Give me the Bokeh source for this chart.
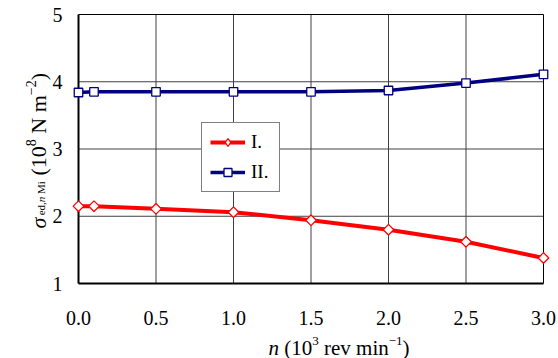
import math
from bokeh.plotting import figure
from bokeh.models import Range1d, Legend
from bokeh.core.properties import value
from bokeh.embed import file_html
from bokeh.resources import INLINE

# ---- data ----
n_vals = [0.0, 0.1, 0.5, 1.0, 1.5, 2.0, 2.5, 3.0]
series_I = [2.15, 2.15, 2.11, 2.06, 1.94, 1.80, 1.62, 1.38]
series_II = [3.84, 3.85, 3.85, 3.85, 3.85, 3.87, 3.98, 4.11]
x_ticks = [0.0, 0.5, 1.0, 1.5, 2.0, 2.5, 3.0]
y_ticks = [1, 2, 3, 4, 5]
x_tick_labels = ["0.0", "0.5", "1.0", "1.5", "2.0", "2.5", "3.0"]
y_tick_labels = ["1", "2", "3", "4", "5"]
series_labels = ["I.", "II."]

# ---- layout constants (pixels) ----
W, H = 558, 358
FL, FR, FT, FB = 78, 543, 14, 283          # plotting area in canvas pixels
XMIN, XMAX = x_ticks[0], x_ticks[-1]
YMIN, YMAX = y_ticks[0], y_ticks[-1]
SX = (FR - FL) / (XMAX - XMIN)
SY = (FB - FT) / (YMAX - YMIN)
FONT = "Liberation Serif"


def px2x(px):
    return XMIN + (px - FL) / SX


def py2y(py):
    return YMIN + (FB - py) / SY


p = figure(width=W, height=H, output_backend="svg", toolbar_location=None,
           x_range=Range1d(px2x(0), px2x(W)), y_range=Range1d(py2y(H), py2y(0)),
           x_axis_location=None, y_axis_location=None,
           min_border=0, min_border_left=0, min_border_right=0,
           min_border_top=0, min_border_bottom=0)
p.outline_line_color = None
p.xgrid.visible = False
p.ygrid.visible = False
p.background_fill_color = "white"
p.border_fill_color = "white"

# grid lines from ticks
gx = x_ticks[1:-1]
p.segment(x0=gx, y0=[YMIN] * len(gx), x1=gx, y1=[YMAX] * len(gx),
          line_color="#404040", line_width=1)
gy = y_ticks[1:-1]
p.segment(x0=[XMIN] * len(gy), y0=gy, x1=[XMAX] * len(gy), y1=gy,
          line_color="#404040", line_width=1)
# frame: thin top/right, thick left/bottom
p.segment(x0=[XMIN, XMAX], y0=[YMAX, YMIN], x1=[XMAX, XMAX], y1=[YMAX, YMAX],
          line_color="black", line_width=1)
p.segment(x0=[XMIN, XMIN], y0=[YMIN, YMIN], x1=[XMIN, XMAX], y1=[YMAX, YMIN],
          line_color="black", line_width=2)

# tick labels
p.text(x=x_ticks, y=[py2y(317)] * len(x_ticks), text=x_tick_labels,
       text_font=value(FONT), text_font_size=value("20px"), text_color="black",
       text_align="center", text_baseline="middle")
p.text(x=[px2x(62)] * len(y_ticks), y=y_ticks, text=y_tick_labels,
       text_font=value(FONT), text_font_size=value("20px"), text_color="black",
       text_align="right", text_baseline="middle")

# series
rI = p.line(n_vals, series_I, line_color="#FF0000", line_width=4)
sI = p.scatter(n_vals, series_I, marker="square", angle=math.pi / 4, size=7.5,
               fill_color="white", line_color="#FF0000", line_width=1.3)
rII = p.line(n_vals, series_II, line_color="#000080", line_width=3.5)
sII = p.scatter(n_vals, series_II, marker="square", size=8.5,
                fill_color="white", line_color="#000080", line_width=1.3)
# legend-only diamond for series I (hidden in the plot)
lI = p.scatter(x=n_vals, y=series_I, marker="diamond", size=13,
               fill_color="white", line_color="#FF0000", line_width=1.3,
               visible=False)

legend = Legend(items=[(series_labels[0], [rI, lI]), (series_labels[1], [rII, sII])],
                location=(201, H - 192))
legend.label_text_font = FONT
legend.label_text_font_size = "19px"
legend.label_text_color = "black"
legend.glyph_width = 35
legend.glyph_height = 20
legend.label_height = 20
legend.label_standoff = 6
legend.padding = 8
legend.spacing = 8
legend.margin = 0
legend.border_line_color = "black"
legend.border_line_width = 1
legend.background_fill_color = "white"
legend.background_fill_alpha = 1
p.add_layout(legend)

# axis titles built from pieces (rendered as one text glyph)
CW = {' ': .25, '(': .333, ')': .333, ',': .25, '0': .5, '1': .5, '2': .5,
      '3': .5, '8': .5, '\u2212': .564, 'M': .889, 'N': .722, 'e': .444,
      'd': .5, 'i': .278, 'm': .778, 'n': .5, 'r': .333, 'v': .5, '\u03c3': .6}

tx, ty, tt, tsz, tst, tang = [], [], [], [], [], []


def place(pieces, start, base, vertical):
    pos = start
    for txt, size, style, shift in pieces:
        lead = len(txt) - len(txt.lstrip(' '))
        step = lead * CW[' '] * size
        pos = pos - step if vertical else pos + step
        body = txt.lstrip(' ')
        w = sum(CW.get(c, .5) for c in body) * size
        if vertical:
            tx.append(px2x(base + shift)); ty.append(py2y(pos)); tang.append(math.pi / 2)
            pos -= w
        else:
            tx.append(px2x(pos)); ty.append(py2y(base + shift)); tang.append(0.0)
            pos += w
        tt.append(body); tsz.append(f"{size}px"); tst.append(style)


x_title = [("n", 21, "italic", 0), (" (10", 21, "normal", 0), ("3", 13, "normal", -7),
           (" rev min", 21, "normal", 0), ("\u22121", 13, "normal", -7), (")", 21, "normal", 0)]
place(x_title, 268, 347, False)

y_title = [("\u03c3", 22, "italic", 0), ("ed,", 11, "normal", 2), ("n", 11, "italic", 2),
           (" Mi", 11, "normal", 2), (" (10", 22, "normal", 0), ("8", 14, "normal", -8),
           (" N m", 22, "normal", 0), ("\u22122", 14, "normal", -8), (")", 22, "normal", 0)]
place(y_title, 228, 38, True)

p.text(x=tx, y=ty, text=tt, angle=tang, text_font_size=tsz, text_font_style=tst,
       text_font=value(FONT), text_color="black", text_align="left",
       text_baseline="alphabetic")

open("out.html", "w").write(file_html(p, INLINE))
